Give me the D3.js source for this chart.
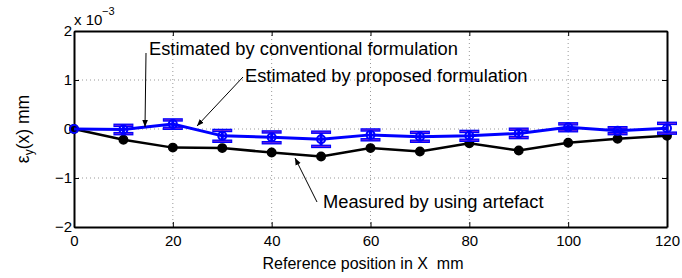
<!DOCTYPE html>
<html>
<head>
<meta charset="utf-8">
<script src="https://cdn.jsdelivr.net/npm/d3@7"></script>
<style>
body { margin: 0; background: #fff; }
text { font-family: "Liberation Sans", Arial, sans-serif; }
</style>
</head>
<body>
<svg id="chart" width="682" height="278"></svg>
<script>
// positions along X (mm)
const positions = [0, 10, 20, 30, 40, 50, 60, 70, 80, 90, 100, 110, 120]
// measured by artefact (x 1e-3 mm)
const measured = [0, -0.22, -0.38, -0.39, -0.48, -0.56, -0.39, -0.46, -0.29, -0.44, -0.28, -0.20, -0.14]
// estimated (x 1e-3 mm) and error half width
const estimated = [0, -0.01, 0.10, -0.14, -0.17, -0.21, -0.12, -0.16, -0.14, -0.09, 0.035, -0.035, 0.015]
const errHalf = [0, 0.085, 0.085, 0.11, 0.11, 0.145, 0.10, 0.09, 0.09, 0.085, 0.07, 0.06, 0.10]
const xTicks = [0, 20, 40, 60, 80, 100, 120]
const yTicks = [-2, -1, 0, 1, 2]

const SVG = d3.select("#chart")
const Margin = { top: 31, bottom: 51, left: 74, right: 15 }
const Width = 682
const Height = 278

const xscale = d3.scaleLinear()
    .domain([0, 120])
    .range([Margin.left, Width - Margin.right])

const yscale = d3.scaleLinear()
    .domain([-2, 2])
    .range([Height - Margin.bottom, Margin.top])

// grid
SVG.append("g")
    .selectAll("line")
    .data(xTicks.slice(1, -1))
    .join("line")
    .attr("x1", d => xscale(d)).attr("x2", d => xscale(d))
    .attr("y1", yscale(2)).attr("y2", yscale(-2))
    .attr("stroke", "#999").attr("stroke-dasharray", "1,3")

SVG.append("g")
    .selectAll("line")
    .data(yTicks.slice(1, -1))
    .join("line")
    .attr("x1", xscale(0)).attr("x2", xscale(120))
    .attr("y1", d => yscale(d)).attr("y2", d => yscale(d))
    .attr("stroke", "#999").attr("stroke-dasharray", "1,3")

// axes (box with inward ticks)
const axBottom = d3.axisBottom(xscale).tickValues(xTicks).tickSizeInner(-5).tickSizeOuter(0).tickPadding(8)
const axTop = d3.axisTop(xscale).tickValues(xTicks).tickSizeInner(-5).tickSizeOuter(0).tickFormat("")
const axLeft = d3.axisLeft(yscale).tickValues(yTicks).tickSizeInner(-5).tickSizeOuter(0).tickPadding(2)
    .tickFormat(d => d < 0 ? "\u2212" + Math.abs(d) : d)
const axRight = d3.axisRight(yscale).tickValues(yTicks).tickSizeInner(-5).tickSizeOuter(0).tickFormat("")

const gb = SVG.append("g").attr("transform", `translate(0, ${yscale(-2)})`).call(axBottom)
const gt = SVG.append("g").attr("transform", `translate(0, ${yscale(2)})`).call(axTop)
const gl = SVG.append("g").attr("transform", `translate(${xscale(0)}, 0)`).call(axLeft)
const gr = SVG.append("g").attr("transform", `translate(${xscale(120)}, 0)`).call(axRight)

for (const g of [gb, gt, gl, gr]) {
    g.select(".domain").attr("stroke", "#000").attr("stroke-width", 2)
    g.selectAll(".tick line").attr("stroke", "#000").attr("stroke-width", 1)
    g.selectAll("text").attr("font-size", 15).attr("fill", "#000")
        .style("font-family", "Liberation Sans, Arial, sans-serif")
}

// multiplier
SVG.append("text").attr("x", 74).attr("y", 25).attr("font-size", 15).text("x 10")
SVG.append("text").attr("x", 102).attr("y", 15).attr("font-size", 11).text("\u22123")

// axis labels
SVG.append("text")
    .attr("transform", `translate(29, ${yscale(0)}) rotate(-90)`)
    .attr("text-anchor", "middle")
    .attr("font-size", 17.5)
    .call(t => {
        t.append("tspan").text("\u03b5")
        t.append("tspan").attr("font-size", 12).attr("dy", 4).text("y")
        t.append("tspan").attr("dy", -4).text("(x) mm")
    })

SVG.append("text")
    .attr("x", 363)
    .attr("y", 269)
    .attr("text-anchor", "middle")
    .attr("font-size", 16)
    .text("Reference position in X\u00a0\u00a0mm")

// measured line
const line = d3.line().x((d, i) => xscale(positions[i])).y(d => yscale(d))

SVG.append("path")
    .datum(measured)
    .attr("d", line)
    .attr("fill", "none").attr("stroke", "#000").attr("stroke-width", 2.5)

SVG.append("g")
    .selectAll("circle")
    .data(measured)
    .join("circle")
    .attr("cx", (d, i) => xscale(positions[i]))
    .attr("cy", d => yscale(d))
    .attr("r", 4.2)
    .attr("fill", "#000").attr("stroke", "#000").attr("stroke-width", 1.5)

// estimated line with error bars
SVG.append("path")
    .datum(estimated)
    .attr("d", line)
    .attr("fill", "none").attr("stroke", "#0000ff").attr("stroke-width", 3)

const eb = SVG.append("g")
estimated.forEach((d, i) => {
    if (errHalf[i] <= 0) return
    const cx = xscale(positions[i])
    const y1 = yscale(d + errHalf[i])
    const y2 = yscale(d - errHalf[i])
    eb.append("line").attr("x1", cx).attr("x2", cx).attr("y1", y1).attr("y2", y2)
        .attr("stroke", "#0000ff").attr("stroke-width", 3)
    for (const y of [y1, y2]) {
        eb.append("line").attr("x1", cx - 10).attr("x2", cx + 10).attr("y1", y).attr("y2", y)
            .attr("stroke", "#0000ff").attr("stroke-width", 3.5)
        eb.append("line").attr("x1", cx - 9).attr("x2", cx + 9).attr("y1", y).attr("y2", y)
            .attr("stroke", "#c040c0").attr("stroke-width", 0.6)
    }
})

SVG.append("g")
    .selectAll("circle")
    .data(estimated)
    .join("circle")
    .attr("cx", (d, i) => xscale(positions[i]))
    .attr("cy", d => yscale(d))
    .attr("r", 4)
    .attr("fill", "none").attr("stroke", "#0000ff").attr("stroke-width", 2)

// annotations
SVG.append("defs").append("marker")
    .attr("id", "arrow")
    .attr("viewBox", "0 0 10 10")
    .attr("refX", 10).attr("refY", 5)
    .attr("markerWidth", 7).attr("markerHeight", 7)
    .attr("orient", "auto")
    .append("path").attr("d", "M0,1 L10,5 L0,9 Z").attr("fill", "#000")

const notes = [
    { text: "Estimated by conventional formulation", tx: 149, ty: 55, from: [146, 53], to: [145, 127] },
    { text: "Estimated by proposed formulation", tx: 245, ty: 82, from: [243, 77], to: [197, 126] },
    { text: "Measured by using artefact", tx: 323, ty: 208, from: [317, 202], to: [295, 158] }
]

for (const n of notes) {
    SVG.append("line")
        .attr("x1", n.from[0]).attr("y1", n.from[1])
        .attr("x2", n.to[0]).attr("y2", n.to[1])
        .attr("stroke", "#000").attr("stroke-width", 1)
        .attr("marker-end", "url(#arrow)")
    SVG.append("text")
        .attr("x", n.tx).attr("y", n.ty)
        .attr("font-size", 18.3)
        .text(n.text)
}
</script>
</body>
</html>
